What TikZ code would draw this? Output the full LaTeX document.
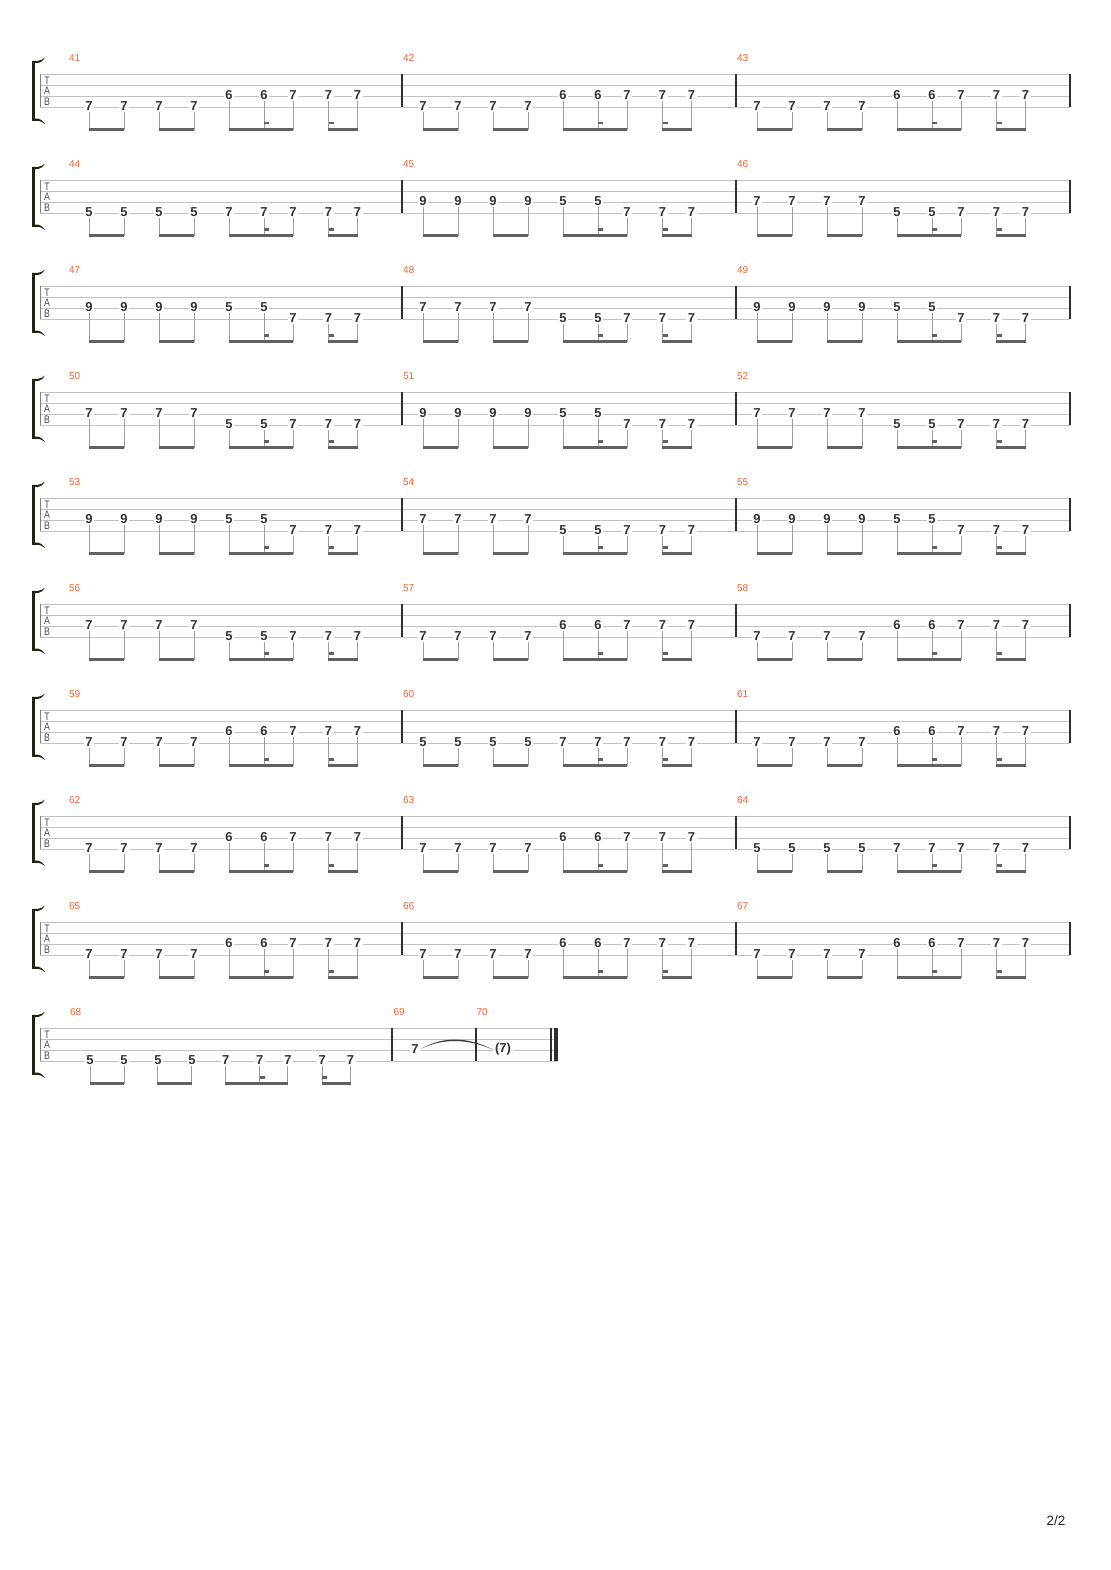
\documentclass[tikz,border=0pt]{standalone}
\usepackage{fontspec}
\usepackage{graphicx}
\setmainfont{Liberation Sans}
\definecolor{numorange}{RGB}{240,98,48}
\definecolor{bracketc}{RGB}{34,34,20}
\tikzset{
 staffline/.style={draw=black!24, line width=0.9bp},
 barline/.style={draw=black!82, line width=1.1bp},
 leftline/.style={draw=black!50, line width=0.9bp},
 fret/.style={font=\bfseries\fontsize{13}{14}\selectfont, text=black!80, fill=white, inner xsep=1.6bp, inner ysep=0.5bp},
 stemline/.style={draw=black!38, line width=0.9bp},
 beamline/.style={draw=black!62, line width=2.6bp},
 stubline/.style={draw=black!62, line width=2.2bp},
 mnum/.style={font=\fontsize{10}{12}\selectfont, text=numorange, anchor=west, inner sep=0bp},
 tabletter/.style={font=\fontsize{11}{12}\selectfont, text=black!70, inner sep=0bp},
}
\def\patA{0/7/33,35/7/33,70/7/33,105/7/33,140/6/22,175/6/22,204/7/22,239.5/7/22,268.5/7/22}
\def\patB{0/5/33,35/5/33,70/5/33,105/5/33,140/7/33,175/7/33,204/7/33,239.5/7/33,268.5/7/33}
\def\patC{0/9/22,35/9/22,70/9/22,105/9/22,140/5/22,175/5/22,204/7/33,239.5/7/33,268.5/7/33}
\def\patD{0/7/22,35/7/22,70/7/22,105/7/22,140/5/33,175/5/33,204/7/33,239.5/7/33,268.5/7/33}
\newcommand\staffrow[2]{%
 \pgfmathsetmacro\rt{74.3+106*#1}%
 \foreach \k in {0,1,2,3} {\draw[staffline] (40,\rt+11*\k) -- (#2,\rt+11*\k);}
 \draw[leftline] (40,\rt) -- (40,\rt+33);
 \fill[bracketc] (32,\rt-13.5) rectangle (35,\rt+46.5);
 \fill[bracketc] (32,\rt-13.5) -- (38,\rt-13.5) .. controls (41,\rt-14) .. (45,\rt-16.8) .. controls (42,\rt-12.8) .. (38,\rt-11.3) -- (32,\rt-11.3) -- cycle;
 \fill[bracketc] (32,\rt+46.5) -- (38,\rt+46.5) .. controls (41,\rt+47) .. (45,\rt+49.8) .. controls (42,\rt+45.8) .. (38,\rt+44.3) -- (32,\rt+44.3) -- cycle;
 \node[tabletter] (T#1) at (47,\rt+6.2) {\scalebox{0.8}[1]{T}};
 \node[tabletter] (A#1) at (47,\rt+16.7) {\scalebox{0.8}[1]{A}};
 \node[tabletter] (B#1) at (47,\rt+27.1) {\scalebox{0.8}[1]{B}};
}
\newcommand\tabmeasure[4]{%
 \node[mnum] (m#1) at (#2-20,\rt-15.8) {#1};
 \foreach \o/\f/\s [count=\i] in #4 {
   \pgfmathsetmacro\nx{#2+#3*\o}
   \pgfmathsetmacro\ly{\rt+\s}
   \coordinate (s#1-\i) at (\nx,\ly+5);
   \coordinate (b#1-\i) at (\nx,\rt+55.3);
   \draw[stemline] (s#1-\i) -- (b#1-\i);
   \node[fret] (f#1-\i) at (\nx,\ly-1.5) {\f};
 }
 \draw[beamline] ([xshift=-0.45bp]b#1-1) -- ([xshift=0.45bp]b#1-2);
 \draw[beamline] ([xshift=-0.45bp]b#1-3) -- ([xshift=0.45bp]b#1-4);
 \draw[beamline] ([xshift=-0.45bp]b#1-5) -- ([xshift=0.45bp]b#1-7);
 \draw[beamline] ([xshift=-0.45bp]b#1-8) -- ([xshift=0.45bp]b#1-9);
 \draw[stubline] ([yshift=6.2bp]b#1-6) -- ([xshift=5bp,yshift=6.2bp]b#1-6);
 \draw[stubline] ([yshift=6.2bp]b#1-8) -- ([xshift=5bp,yshift=6.2bp]b#1-8);
}
\newcommand\fullrow[7]{%
 \staffrow{#1}{1070}%
 \foreach \bx in {402,736,1070} {\draw[barline] (\bx,\rt) -- (\bx,\rt+33);}
 \tabmeasure{#2}{89}{1}{#3}%
 \tabmeasure{#4}{423}{1}{#5}%
 \tabmeasure{#6}{757}{1}{#7}%
}
\begin{document}
\begin{tikzpicture}[x=1bp,y=-1bp]
\useasboundingbox[fill=white] (0,0) rectangle (1110,1570);
\fullrow{0}{41}{\patA}{42}{\patA}{43}{\patA}
\fullrow{1}{44}{\patB}{45}{\patC}{46}{\patD}
\fullrow{2}{47}{\patC}{48}{\patD}{49}{\patC}
\fullrow{3}{50}{\patD}{51}{\patC}{52}{\patD}
\fullrow{4}{53}{\patC}{54}{\patD}{55}{\patC}
\fullrow{5}{56}{\patD}{57}{\patA}{58}{\patA}
\fullrow{6}{59}{\patA}{60}{\patB}{61}{\patA}
\fullrow{7}{62}{\patA}{63}{\patA}{64}{\patB}
\fullrow{8}{65}{\patA}{66}{\patA}{67}{\patA}
% last row
\staffrow{9}{558}
\foreach \bx in {392,476,551} {\draw[barline] (\bx,\rt) -- (\bx,\rt+33);}
\fill[black!82] (553.5,\rt) rectangle (558,\rt+33);
\tabmeasure{68}{90}{0.97}{\patB}
\node[mnum] (m69) at (393.5,\rt-15.8) {69};
\node[mnum] (m70) at (476.5,\rt-15.8) {70};
\node[fret] (f69-1) at (415,\rt+20.5) {7};
\node[fret] (f70-1) at (503,\rt+20.5) {(7)};
\fill[black!78] ([xshift=0.5bp]f69-1.east) .. controls +(24,-13.5) and +(-24,-12.5) .. ([yshift=-1bp]f70-1.west) .. controls +(-24,-10.5) and +(24,-11.5) .. ([xshift=0.5bp]f69-1.east) -- cycle;
\node[font=\fontsize{13.5}{14}\selectfont, text=black!88] (page) at (1056,1521) {2/2};
\end{tikzpicture}
\end{document}
